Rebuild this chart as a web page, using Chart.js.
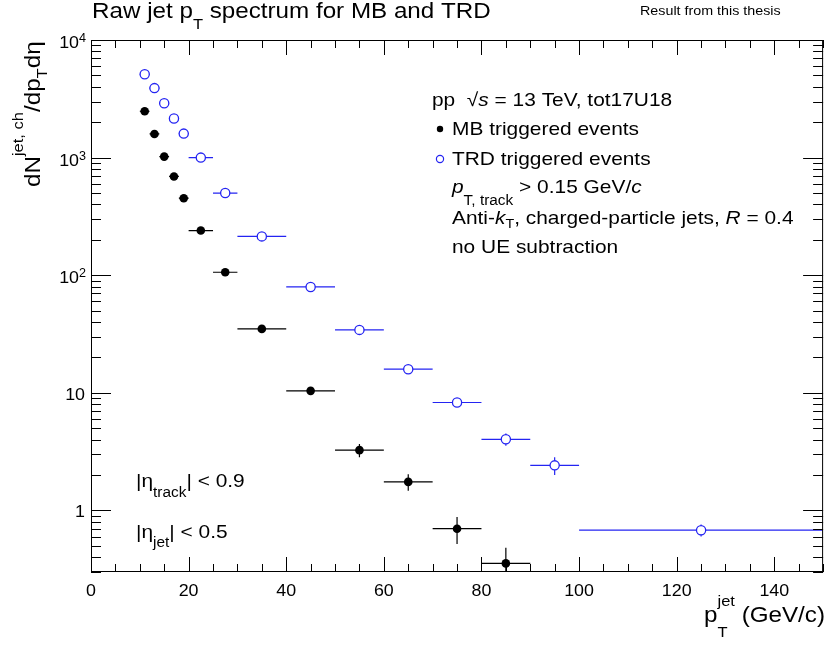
<!DOCTYPE html>
<html>
<head>
<meta charset="utf-8">
<script src="https://cdn.jsdelivr.net/npm/chart.js@4"></script>
<style>
  html, body { margin: 0; padding: 0; background: #fff; }
  canvas { display: block; }
</style>
</head>
<body>
<canvas id="spectrum" width="829" height="645"></canvas>
<script>
// bins of the jet pT histogram (GeV/c)
const binLow  = [10, 12, 14, 16, 18, 20, 25, 30, 40, 50, 60, 70, 80, 90, 100];
const binHigh = [12, 14, 16, 18, 20, 25, 30, 40, 50, 60, 70, 80, 90, 100, 150];

// MB triggered events (first 13 bins)
const mbValues = [2480, 1590, 1020, 692, 452, 240, 106, 35, 10.4, 3.26, 1.75, 0.70, 0.355];
const mbErrors = [8, 6, 5, 4, 3, 2, 1.2, 0.6, 0.35, 0.42, 0.28, 0.18, 0.128];

// TRD triggered events (all bins)
const trdValues = [5110, 3900, 2900, 2150, 1600, 1000, 500, 214, 79.5, 34.3, 15.9, 8.28, 4.03, 2.42, 0.68];
const trdErrors = [30, 25, 20, 16, 12, 8, 5, 2.5, 1.2, 0.8, 0.5, 0.55, 0.48, 0.42, 0.08];

// axis ticks
const xMajor = [0, 20, 40, 60, 80, 100, 120, 140];
const yDecades = [1, 10, 100, 1000, 10000];
const yTickLabels = ['1', '10', '10|2', '10|3', '10|4'];

const FONT = '"Liberation Sans", Arial, Helvetica, sans-serif';
const BLUE = '#2424f2';

function richWidth(ctx, parts) {
    let w = 0;
    parts.forEach(p => {
        ctx.font = (p.it ? 'italic ' : '') + p.s + 'px ' + FONT;
        if (p.adv !== false) w += ctx.measureText(p.t).width;
    });
    return w;
}

function drawRich(ctx, x, y, parts, align, sx) {
    sx = sx || 1;
    ctx.save();
    ctx.translate(x, y);
    ctx.scale(sx, 1);
    let cx = 0;
    if (align === 'right') cx = -richWidth(ctx, parts);
    if (align === 'center') cx = -richWidth(ctx, parts) / 2;
    ctx.textBaseline = 'alphabetic';
    ctx.textAlign = 'left';
    parts.forEach(p => {
        ctx.font = (p.it ? 'italic ' : '') + p.s + 'px ' + FONT;
        ctx.fillStyle = p.c || '#000';
        ctx.fillText(p.t, cx, p.dy || 0);
        if (p.adv !== false) cx += ctx.measureText(p.t).width;
    });
    ctx.restore();
}

const errorBars = {
    id: 'errorBars',
    beforeDatasetsDraw(chart) {
        const ctx = chart.ctx;
        const xs = chart.scales.x, ys = chart.scales.y;
        const area = chart.chartArea;
        const sets = [
            { vals: mbValues, errs: mbErrors, color: '#000' },
            { vals: trdValues, errs: trdErrors, color: BLUE }
        ];
        ctx.save();
        ctx.beginPath();
        ctx.rect(area.left, area.top, area.right - area.left, area.bottom - area.top);
        ctx.clip();
        ctx.lineWidth = 1.2;
        sets.forEach(s => {
            ctx.strokeStyle = s.color;
            s.vals.forEach((v, i) => {
                const xc = xs.getPixelForValue((binLow[i] + binHigh[i]) / 2);
                const yc = ys.getPixelForValue(v);
                const yTop = ys.getPixelForValue(v + s.errs[i]);
                const yBot = ys.getPixelForValue(Math.max(v - s.errs[i], 1e-3));
                ctx.beginPath();
                ctx.moveTo(xs.getPixelForValue(binLow[i]), yc);
                ctx.lineTo(xs.getPixelForValue(binHigh[i]), yc);
                ctx.moveTo(xc, yTop);
                ctx.lineTo(xc, yBot);
                ctx.stroke();
            });
        });
        ctx.restore();
    }
};

const rootFrame = {
    id: 'rootFrame',
    afterDraw(chart) {
        const ctx = chart.ctx;
        const xs = chart.scales.x, ys = chart.scales.y;
        const a = chart.chartArea;
        ctx.save();
        ctx.strokeStyle = '#000';
        ctx.lineWidth = 1;
        ctx.strokeRect(a.left + 0.5, a.top + 0.5, a.right - a.left - 1, a.bottom - a.top - 1);

        // x ticks, bottom and top
        ctx.beginPath();
        for (let v = 0; v <= 150; v += 5) {
            const px = Math.round(xs.getPixelForValue(v)) + 0.5;
            const len = v % 20 === 0 ? 15 : 8;
            ctx.moveTo(px, a.bottom); ctx.lineTo(px, a.bottom - len);
            ctx.moveTo(px, a.top); ctx.lineTo(px, a.top + len);
        }
        // y ticks, left and right
        for (let d = 0.1; d <= 10000; d *= 10) {
            for (let k = 1; k <= 9; k++) {
                const v = d * k;
                if (v < ys.min || v > ys.max) continue;
                const py = Math.round(ys.getPixelForValue(v)) + 0.5;
                const len = k === 1 ? 20 : 10;
                ctx.moveTo(a.left, py); ctx.lineTo(a.left + len, py);
                ctx.moveTo(a.right, py); ctx.lineTo(a.right - len, py);
            }
        }
        ctx.stroke();

        // x tick labels
        xMajor.forEach(v => {
            drawRich(ctx, xs.getPixelForValue(v), 596, [{ t: String(v), s: 17 }], 'center', 1.05);
        });
        // y tick labels
        yDecades.forEach((v, i) => {
            const py = ys.getPixelForValue(v);
            const lab = yTickLabels[i].split('|');
            if (lab.length === 1) {
                drawRich(ctx, 85, py + 7, [{ t: lab[0], s: 17 }], 'right', 1.05);
            } else {
                drawRich(ctx, 86, py + 8, [{ t: lab[0], s: 17 }, { t: lab[1], s: 12, dy: -6 }], 'right', 1.05);
            }
        });

        // title and side note
        drawRich(ctx, 92, 18, [
            { t: 'Raw jet p', s: 22 }, { t: 'T', s: 15, dy: 11 }, { t: ' spectrum for MB and TRD', s: 22 }
        ], 'left', 1.1);
        drawRich(ctx, 640, 15, [{ t: 'Result from this thesis', s: 13 }], 'left', 1.1);

        // axis titles
        drawRich(ctx, 825, 622, [
            { t: 'p', s: 22 }, { t: 'T', s: 15, dy: 15, adv: false }, { t: 'jet', s: 15, dy: -16 },
            { t: ' (GeV/c)', s: 22 }
        ], 'right', 1.1);
        ctx.save();
        ctx.translate(40, 187);
        ctx.rotate(-Math.PI / 2);
        drawRich(ctx, 0, 0, [
            { t: 'dN', s: 22 }, { t: 'jet, ch', s: 15, dy: -17 }, { t: '/dp', s: 22 },
            { t: 'T', s: 15, dy: 7 }, { t: 'dη', s: 22 }
        ], 'left', 1.1);
        ctx.restore();

        // legend-like labels
        const S = 19, SX = 1.1;
        drawRich(ctx, 432, 106, [
            { t: 'pp  √', s: S }, { t: 's', s: S, it: true }, { t: ' = 13 TeV, tot17U18', s: S }
        ], 'left', SX);
        ctx.fillStyle = '#000';
        ctx.beginPath(); ctx.arc(440, 129, 3.2, 0, Math.PI * 2); ctx.fill();
        drawRich(ctx, 452, 135, [{ t: 'MB triggered events', s: S }], 'left', SX);
        ctx.strokeStyle = BLUE; ctx.lineWidth = 1.2;
        ctx.beginPath(); ctx.arc(440, 159, 3.6, 0, Math.PI * 2); ctx.stroke();
        drawRich(ctx, 452, 165, [{ t: 'TRD triggered events', s: S }], 'left', SX);
        drawRich(ctx, 452, 193, [
            { t: 'p', s: S, it: true }, { t: 'T, track', s: 14, dy: 12 }, { t: ' > 0.15 GeV/', s: S }, { t: 'c', s: S, it: true }
        ], 'left', SX);
        drawRich(ctx, 452, 224, [
            { t: 'Anti-', s: S }, { t: 'k', s: S, it: true }, { t: 'T', s: 13, dy: 4 },
            { t: ', charged-particle jets, ', s: S }, { t: 'R', s: S, it: true }, { t: ' = 0.4', s: S }
        ], 'left', SX);
        drawRich(ctx, 452, 253, [{ t: 'no UE subtraction', s: S }], 'left', SX);

        drawRich(ctx, 136, 487, [
            { t: '|η', s: S }, { t: 'track', s: 14, dy: 10 }, { t: '| < 0.9', s: S }
        ], 'left', SX);
        drawRich(ctx, 136, 538, [
            { t: '|η', s: S }, { t: 'jet', s: 14, dy: 9 }, { t: '| < 0.5', s: S }
        ], 'left', SX);
        ctx.restore();
    }
};

const mbPoints = mbValues.map((v, i) => ({ x: (binLow[i] + binHigh[i]) / 2, y: v }));
const trdPoints = trdValues.map((v, i) => ({ x: (binLow[i] + binHigh[i]) / 2, y: v }));

new Chart(document.getElementById('spectrum').getContext('2d'), {
    type: 'scatter',
    data: {
        datasets: [
            {
                label: 'TRD triggered events',
                data: trdPoints,
                pointRadius: 4.6,
                pointBackgroundColor: '#fff',
                pointBorderColor: BLUE,
                pointBorderWidth: 1.3
            },
            {
                label: 'MB triggered events',
                data: mbPoints,
                pointRadius: 4.3,
                pointBackgroundColor: '#000',
                pointBorderColor: '#000',
                pointBorderWidth: 0
            }
        ]
    },
    options: {
        responsive: false,
        animation: false,
        devicePixelRatio: 1,
        layout: { padding: { left: 91, top: 40, right: 3, bottom: 73 } },
        plugins: { legend: { display: false }, tooltip: { enabled: false } },
        scales: {
            x: { type: 'linear', min: 0, max: 150, display: false },
            y: { type: 'logarithmic', min: 0.324, max: 10000, display: false }
        }
    },
    plugins: [errorBars, rootFrame]
});
</script>
</body>
</html>
